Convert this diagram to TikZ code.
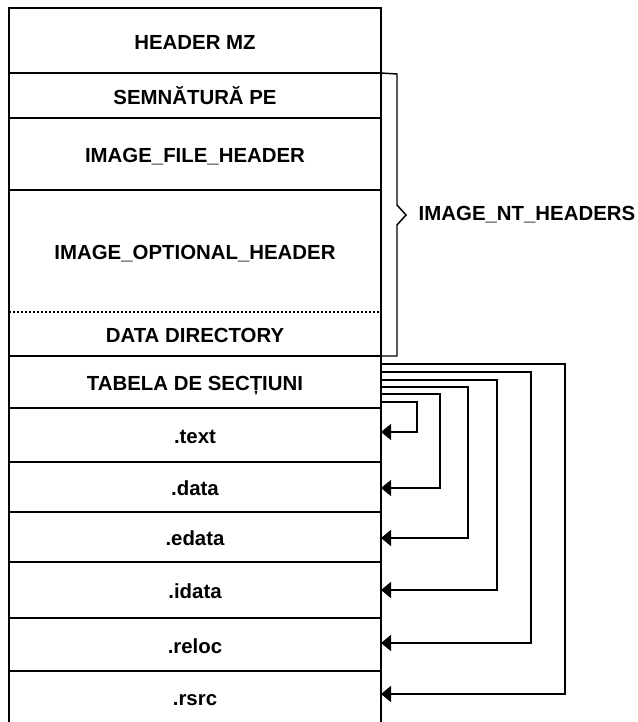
\documentclass[tikz,border=0pt]{standalone}
\usepackage{fontspec}
\setmainfont{Liberation Sans}
\usetikzlibrary{arrows.meta}
\begin{document}
\begin{tikzpicture}[x=0.75pt,y=-0.75pt,
  line width=1.1pt,
  txt/.style={font=\fontsize{15.3}{18}\selectfont\bfseries},
  row/.style={txt, draw, inner sep=0pt, outer sep=0pt, minimum width=279pt, text height=13.2pt, text depth=0pt},
  lbl/.style={txt, inner sep=0pt},
  arr/.style={-{Triangle[length=7.5pt,width=12pt]}},
  dots/.style={dash pattern=on 1.5pt off 1.5pt}
]
\fill[white] (0,0) rectangle (638,722);
\useasboundingbox (0,0) rectangle (638,722);
% rows
\node[row, minimum height=48.75pt] (mz) at (195,40.5) {HEADER MZ};
\node[row, minimum height=33.75pt] (sig) at (195,95.5) {SEMNĂTURĂ PE};
\node[row, minimum height=54pt] (fh) at (195,154) {IMAGE\_FILE\_HEADER};
\node[row, draw=none, minimum height=91.5pt] (opt) at (195,251) {IMAGE\_OPTIONAL\_HEADER};
\node[row, draw=none, minimum height=33pt] (dd) at (195,334) {DATA DIRECTORY};
\node[row, minimum height=39pt] (tab) at (195,382) {TABELA DE SECȚIUNI};
\node[row, minimum height=40.5pt] (sText) at (195,435) {.text};
\node[row, minimum height=37.5pt] (sData) at (195,487) {.data};
\node[row, minimum height=37.5pt] (sEdata) at (195,537) {.edata};
\node[row, minimum height=42pt] (sIdata) at (195,590) {.idata};
\node[row, minimum height=39.75pt] (sReloc) at (195,644.5) {.reloc};
\node[row, draw=none, minimum height=38.25pt] (sRsrc) at (195,696.5) {.rsrc};
% borders of undrawn rows
\draw (opt.north west) -- (dd.south west) (opt.north east) -- (dd.south east);
\draw[dots] (opt.south west) -- (opt.south east);
\draw (sRsrc.south west) -- (sRsrc.north west) -- (sRsrc.north east) -- (sRsrc.south east);
% brace for IMAGE_NT_HEADERS
\node[lbl, anchor=west] (nt) at (418,215) {IMAGE\_NT\_HEADERS};
\draw (sig.north east) -- (397,74) -- (397,205) -- (406,215) -- (397,225) |- (dd.south east);
% section table connectors
\draw[arr] ([yshift=13.5pt]tab.east) -- ++(184,0) |- ([yshift=1.875pt]sRsrc.east);
\draw[arr] ([yshift=7.5pt]tab.east) -- ++(150,0) |- ([yshift=1.125pt]sReloc.east);
\draw[arr] ([yshift=1.5pt]tab.east) -- ++(116,0) |- (sIdata.east);
\draw[arr] ([yshift=-3.75pt]tab.east) -- ++(87,0) |- ([yshift=-0.75pt]sEdata.east);
\draw[arr] ([yshift=-9pt]tab.east) -- ++(59,0) |- ([yshift=-0.75pt]sData.east);
\draw[arr] ([yshift=-15pt]tab.east) -- ++(36,0) |- ([yshift=2.25pt]sText.east);
\end{tikzpicture}
\end{document}
